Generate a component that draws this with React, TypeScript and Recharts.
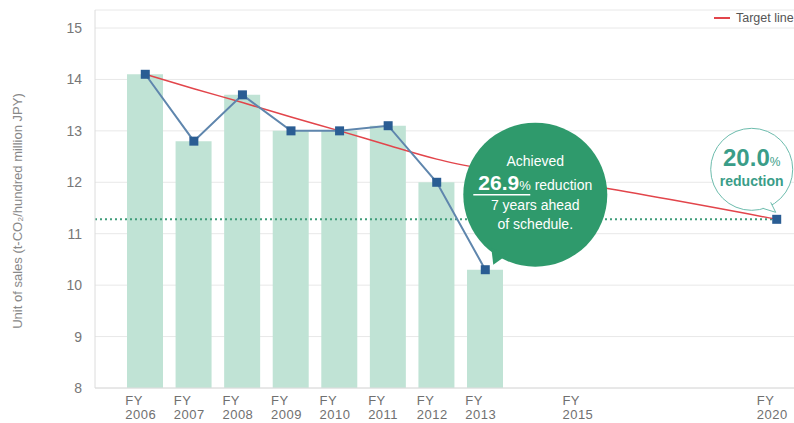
import React from 'react';
import {
  ComposedChart,
  Bar,
  Line,
  XAxis,
  YAxis,
  CartesianGrid,
  ReferenceLine,
  ReferenceDot,
} from 'recharts';

// x slots: FY2014 and FY2016-2019 are left as empty gaps on the axis
const slots = ['2006', '2007', '2008', '2009', '2010', '2011', '2012', '2013', 'gap14', '2015', 'gap16', 'gap17', 'gap18', '2020'];
const labelledYears = ['2006', '2007', '2008', '2009', '2010', '2011', '2012', '2013', '2015', '2020'];

// t-CO2 per hundred million JPY of sales
const actual = [14.1, 12.8, 13.7, 13.0, 13.0, 13.1, 12.0, 10.3, null, null, null, null, null, null];
const targetLine = [14.1, 13.82, 13.55, 13.27, 13.0, 12.72, 12.45, 12.25, null, 11.96, null, null, null, 11.28];
const goal2020 = 11.28;

const yTicks = [8, 9, 10, 11, 12, 13, 14, 15];
const achievedPct = '26.9';
const goalPct = '20.0';

const data = slots.map((slot, i) => ({
  slot,
  actual: actual[i],
  target: targetLine[i],
  goal: slot === '2020' ? goal2020 : null,
}));

const FONT = '"Liberation Sans", Arial, sans-serif';
const Y_AXIS_W = 95;
const GREEN = '#2f9a6c';
const TEAL = '#3a9d88';

const SquareDot = (props: any) => {
  const { cx, cy, value, index } = props;
  if (cx == null || cy == null || value == null) return <g key={`d-${index}`} />;
  return <rect key={`d-${index}`} x={cx - 4.5} y={cy - 4.5} width={9} height={9} fill="#2a5d93" />;
};

const FyTick = (props: any) => {
  const { x, y, payload } = props;
  // keep the last label inside the visible area
  const left = Math.min(x - 20, 762);
  return (
    <g>
      <text x={left} y={y + 9} fill="#707070" fontSize={13} fontFamily={FONT} letterSpacing={0.5}>FY</text>
      <text x={left} y={y + 23} fill="#707070" fontSize={13} fontFamily={FONT} letterSpacing={0.5}>{payload.value}</text>
    </g>
  );
};

// green speech bubble hanging off the FY2013 result
const AchievedBubble = ({ cx, cy }: any) => {
  if (cx == null || cy == null) return null;
  const bx = cx + 50;
  const by = cy - 75;
  return (
    <g fontFamily={FONT} fill="#fff" textAnchor="middle">
      <circle cx={bx} cy={by} r={72} fill={GREEN} />
      <polygon points={`${cx + 6},${cy - 22} ${cx + 22},${cy - 15} ${cx + 8},${cy - 5}`} fill={GREEN} />
      <text x={bx} y={by - 29} fontSize={14}>Achieved</text>
      <text x={bx} y={by - 5}>
        <tspan fontSize={21} fontWeight="bold">{achievedPct}</tspan>
        <tspan fontSize={13}>%</tspan>
        <tspan fontSize={14}> reduction</tspan>
      </text>
      <line x1={bx - 62} y1={by} x2={bx - 5} y2={by} stroke="#fff" strokeWidth={1.5} />
      <text x={bx} y={by + 15} fontSize={14}>7 years ahead</text>
      <text x={bx} y={by + 34} fontSize={14}>of schedule.</text>
    </g>
  );
};

// outlined bubble over the FY2020 goal
const GoalBubble = ({ cx, cy }: any) => {
  if (cx == null || cy == null) return null;
  const bx = cx - 25;
  const by = cy - 50;
  return (
    <g fontFamily={FONT} textAnchor="middle" fill={TEAL}>
      <circle cx={bx} cy={by} r={41} fill="#fff" stroke="#6dbcad" strokeWidth={1} />
      <polygon points={`${cx - 14},${cy - 11} ${cx - 1},${cy - 7} ${cx - 6},${cy - 17}`} fill="#fff" />
      <polyline points={`${cx - 14},${cy - 11} ${cx - 1},${cy - 7} ${cx - 6},${cy - 17}`} fill="none" stroke="#6dbcad" strokeWidth={1} />
      <text x={bx} y={by - 3}>
        <tspan fontSize={24} fontWeight={600}>{goalPct}</tspan>
        <tspan fontSize={12}>%</tspan>
      </text>
      <text x={bx} y={by + 17} fontSize={14} fontWeight="bold">reduction</text>
    </g>
  );
};

export default function App() {
  return (
    <div style={{ position: 'fixed', top: 0, left: 0, width: 794, height: 423, overflow: 'hidden', background: '#fff' }}>
      <ComposedChart width={801} height={423} data={data} margin={{ top: 10, right: 0, left: 0, bottom: 0 }}>
        <CartesianGrid horizontal vertical={false} stroke="#e8e8e8" />
        <XAxis
          dataKey="slot"
          ticks={labelledYears}
          interval={0}
          tick={<FyTick />}
          tickLine={false}
          axisLine={{ stroke: '#dcdcdc' }}
          padding={{ left: 26, right: 0 }}
          height={35}
        />
        <YAxis
          width={Y_AXIS_W}
          domain={[8, 15.35]}
          ticks={yTicks}
          tickLine={false}
          tickMargin={7}
          axisLine={{ stroke: '#dcdcdc' }}
          tick={{ fill: '#777', fontSize: 14, fontFamily: FONT }}
          label={{
            content: () => (
              <text transform="translate(22,211) rotate(-90)" textAnchor="middle" fill="#888" fontSize={13} fontFamily={FONT}>
                Unit of sales (t-CO₂/hundred million JPY)
              </text>
            ),
          }}
        />
        <Bar dataKey="actual" barSize={36} fill="#c0e3d5" isAnimationActive={false} />
        <ReferenceLine
          segment={[{ x: '2006', y: goal2020 }, { x: '2020', y: goal2020 }]}
          shape={(p: any) => (
            <line x1={Y_AXIS_W} y1={p.y1} x2={p.x2} y2={p.y2} stroke="#3f9c7a" strokeWidth={2} strokeDasharray="2 3" />
          )}
        />
        <Line
          dataKey="target"
          name="Target line"
          type="monotone"
          stroke="#e2454b"
          strokeWidth={1.5}
          dot={false}
          connectNulls
          isAnimationActive={false}
        />
        <Line
          dataKey="actual"
          stroke="#5f86ad"
          strokeWidth={2}
          dot={<SquareDot />}
          isAnimationActive={false}
        />
        <Line dataKey="goal" stroke="none" dot={<SquareDot />} isAnimationActive={false} />
        <ReferenceDot x="2013" y={actual[7] as number} r={0} shape={(p: any) => <AchievedBubble cx={p.cx} cy={p.cy} />} />
        <ReferenceDot x="2020" y={goal2020} r={0} shape={(p: any) => <GoalBubble cx={p.cx} cy={p.cy} />} />
      </ComposedChart>
      <div style={{ position: 'absolute', top: 11, left: 714, display: 'flex', alignItems: 'center', whiteSpace: 'nowrap', fontFamily: FONT, fontSize: 12.5, color: '#555' }}>
        <span style={{ display: 'inline-block', width: 16, height: 2, background: '#e2454b', marginRight: 6 }} />
        Target line
      </div>
    </div>
  );
}
